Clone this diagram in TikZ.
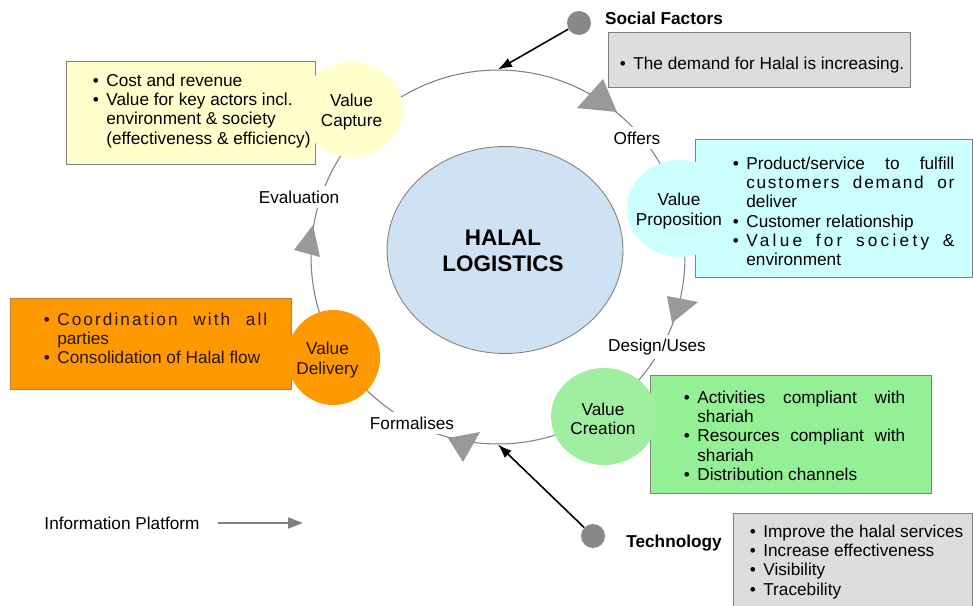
\documentclass[tikz,border=0pt]{standalone}
\usepackage{fontspec}
\setmainfont{Liberation Sans}
\usetikzlibrary{arrows.meta,shapes.geometric}

\definecolor{capturefill}{HTML}{FFFFCC}
\definecolor{propfill}{HTML}{CCFFFF}
\definecolor{creationfill}{HTML}{94F094}
\definecolor{creationcircle}{HTML}{A0EEA0}
\definecolor{deliveryfill}{HTML}{FF9900}
\definecolor{deliveryedge}{HTML}{C8782A}
\definecolor{deliverytext}{HTML}{2A1500}
\definecolor{factorfill}{HTML}{DDDDDD}
\definecolor{halalfill}{HTML}{CFE2F3}
\definecolor{linegray}{HTML}{808080}
\definecolor{tipgray}{HTML}{999999}
\definecolor{dotgray}{HTML}{888888}

\newlength\bulletgap
\setlength\bulletgap{0.27cm}
\newcommand{\bitem}{\par\noindent\hangindent=\bulletgap\hangafter=1\makebox[\bulletgap][l]{\textbullet}}
\newcommand{\listfont}{\fontsize{9.8}{11}\selectfont\tolerance=10000 }
\newcommand{\spread}[2]{{\addfontfeatures{LetterSpace=#1}#2}}

\begin{document}
\begin{tikzpicture}[>=latex, x=0.02cm, y=-0.02cm,
  every node/.style={font=\fontsize{9.8}{11}\selectfont},
  listtext/.style={anchor=north west, inner sep=0pt, align=justify, font=\listfont},
  infobox/.style={draw=linegray, line width=0.5pt},
  valuecircle/.style={ellipse, inner sep=0pt},
  valuetext/.style={align=center, yshift=-0.05cm},
  steplabel/.style={fill=white, inner sep=2.5pt},
  cycletip/.style={fill=tipgray},
  factor/.style={circle, fill=dotgray, minimum size=0.48cm, inner sep=0pt},
  factorlabel/.style={font=\fontsize{9.8}{11}\selectfont\bfseries},
  factorarrow/.style={->, line width=0.9pt, >={Latex[length=0.28cm,width=0.2cm]}}]
  \useasboundingbox (0,0) rectangle (973,605);

  \node[circle, draw=linegray, line width=0.6pt, minimum size=7.48cm, inner sep=0pt] (cycle) at (498,257) {};
  \node[ellipse, draw=linegray, line width=0.5pt, fill=halalfill, minimum width=4.72cm, minimum height=4.14cm] (halal) at (505,250) {};
  \node[font=\fontsize{12.8}{15}\selectfont\bfseries, align=center] (halaltext) at (503,251) {HALAL\\LOGISTICS};

  \node[steplabel] (offers) at (637,138) {Offers};
  \node[steplabel] (design) at (657,347) {Design/Uses};
  \node[steplabel] (formalises) at (412,423) {Formalises};
  \node[steplabel] (evaluation) at (299,197) {Evaluation};

  \fill[cycletip] (603,79) -- (577,108) -- (617,112) -- cycle;
  \fill[cycletip] (667,296) -- (698,302) -- (672,323) -- cycle;
  \fill[cycletip] (448,438) -- (480,432) -- (463,462) -- cycle;
  \fill[cycletip] (313,225) -- (294,250) -- (320,257) -- cycle;

  \draw[infobox, fill=capturefill] (66,61) rectangle (315,164);
  \draw[infobox, fill=factorfill] (608,32) rectangle (910,87);
  \draw[infobox, fill=propfill] (695,139) rectangle (972.5,277);
  \draw[infobox, draw=deliveryedge, fill=deliveryfill] (10,298) rectangle (291,389);
  \draw[infobox, fill=creationfill] (650,375) rectangle (931,493);
  \draw[infobox, fill=factorfill] (733,513) rectangle (972.5,607);

  \node[valuecircle, fill=capturefill, minimum width=2.06cm, minimum height=1.9cm] (capture) at (351.5,109.5) {};
  \node[valuecircle, fill=propfill, minimum width=2.12cm, minimum height=1.94cm] (proposition) at (680,208.5) {};
  \node[valuecircle, fill=creationcircle, minimum width=2.12cm, minimum height=1.94cm] (creation) at (604,416.5) {};
  \node[valuecircle, fill=deliveryfill, minimum width=1.86cm, minimum height=1.9cm] (delivery) at (333.5,357.5) {};

  \node[valuetext] (capturetext) at (capture) {Value\\Capture};
  \node[valuetext] (propositiontext) at ([xshift=-0.02cm]proposition) {Value\\Proposition};
  \node[valuetext] (creationtext) at ([xshift=-0.02cm]creation) {Value\\Creation};
  \node[valuetext, text=deliverytext] (deliverytext) at ([xshift=-0.12cm]delivery) {Value\\Delivery};

  \node[listtext, text width=4.5cm] (capturelist) at (92.5,66.5)
    {\bitem Cost and revenue \bitem Value for key actors incl.\newline environment \& society\newline (effectiveness \& efficiency)\par};
  \node[listtext, text width=5.9cm] (sociallist) at (619.5,49.5)
    {\bitem The demand for Halal is increasing.\par};
  \node[listtext, text width=4.43cm] (propositionlist) at (732.5,149.5)
    {\bitem Product/service to fulfill\linebreak \spread{10}{customers demand or}\linebreak deliver
     \bitem Customer relationship \bitem \spread{19}{Value for society \&}\linebreak environment\par};
  \node[listtext, text width=4.47cm, text=deliverytext] (deliverylist) at (43.5,305.5)
    {\bitem \spread{12}{Coordination with all}\linebreak parties \bitem Consolidation of Halal flow\par};
  \node[listtext, text width=4.43cm] (creationlist) at (683.5,383.5)
    {\bitem Activities compliant with\linebreak shariah \bitem Resources compliant with\linebreak shariah \bitem Distribution channels\par};
  \node[listtext, text width=4.5cm] (techlist) at (749.5,517.5)
    {\bitem Improve the halal services \bitem Increase effectiveness \bitem Visibility \bitem Tracebility\par};

  \node[factor] (social) at (579,23) {};
  \node[factorlabel] (sociallabel) at (664,18) {Social Factors};
  \draw[factorarrow] (social) -- (cycle.north);

  \node[factor] (tech) at (593,536) {};
  \node[factorlabel] (techlabel) at (674,543) {Technology};
  \draw[factorarrow] (tech) -- (cycle.south);

  \node (info) at (122,523) {Information Platform};
  \coordinate (infoend) at (303,523);
  \draw[->, draw=linegray, line width=0.9pt, >={Triangle[length=0.3cm,width=0.22cm]}] ([xshift=0.25cm]info.east) -- (infoend);
\end{tikzpicture}
\end{document}
